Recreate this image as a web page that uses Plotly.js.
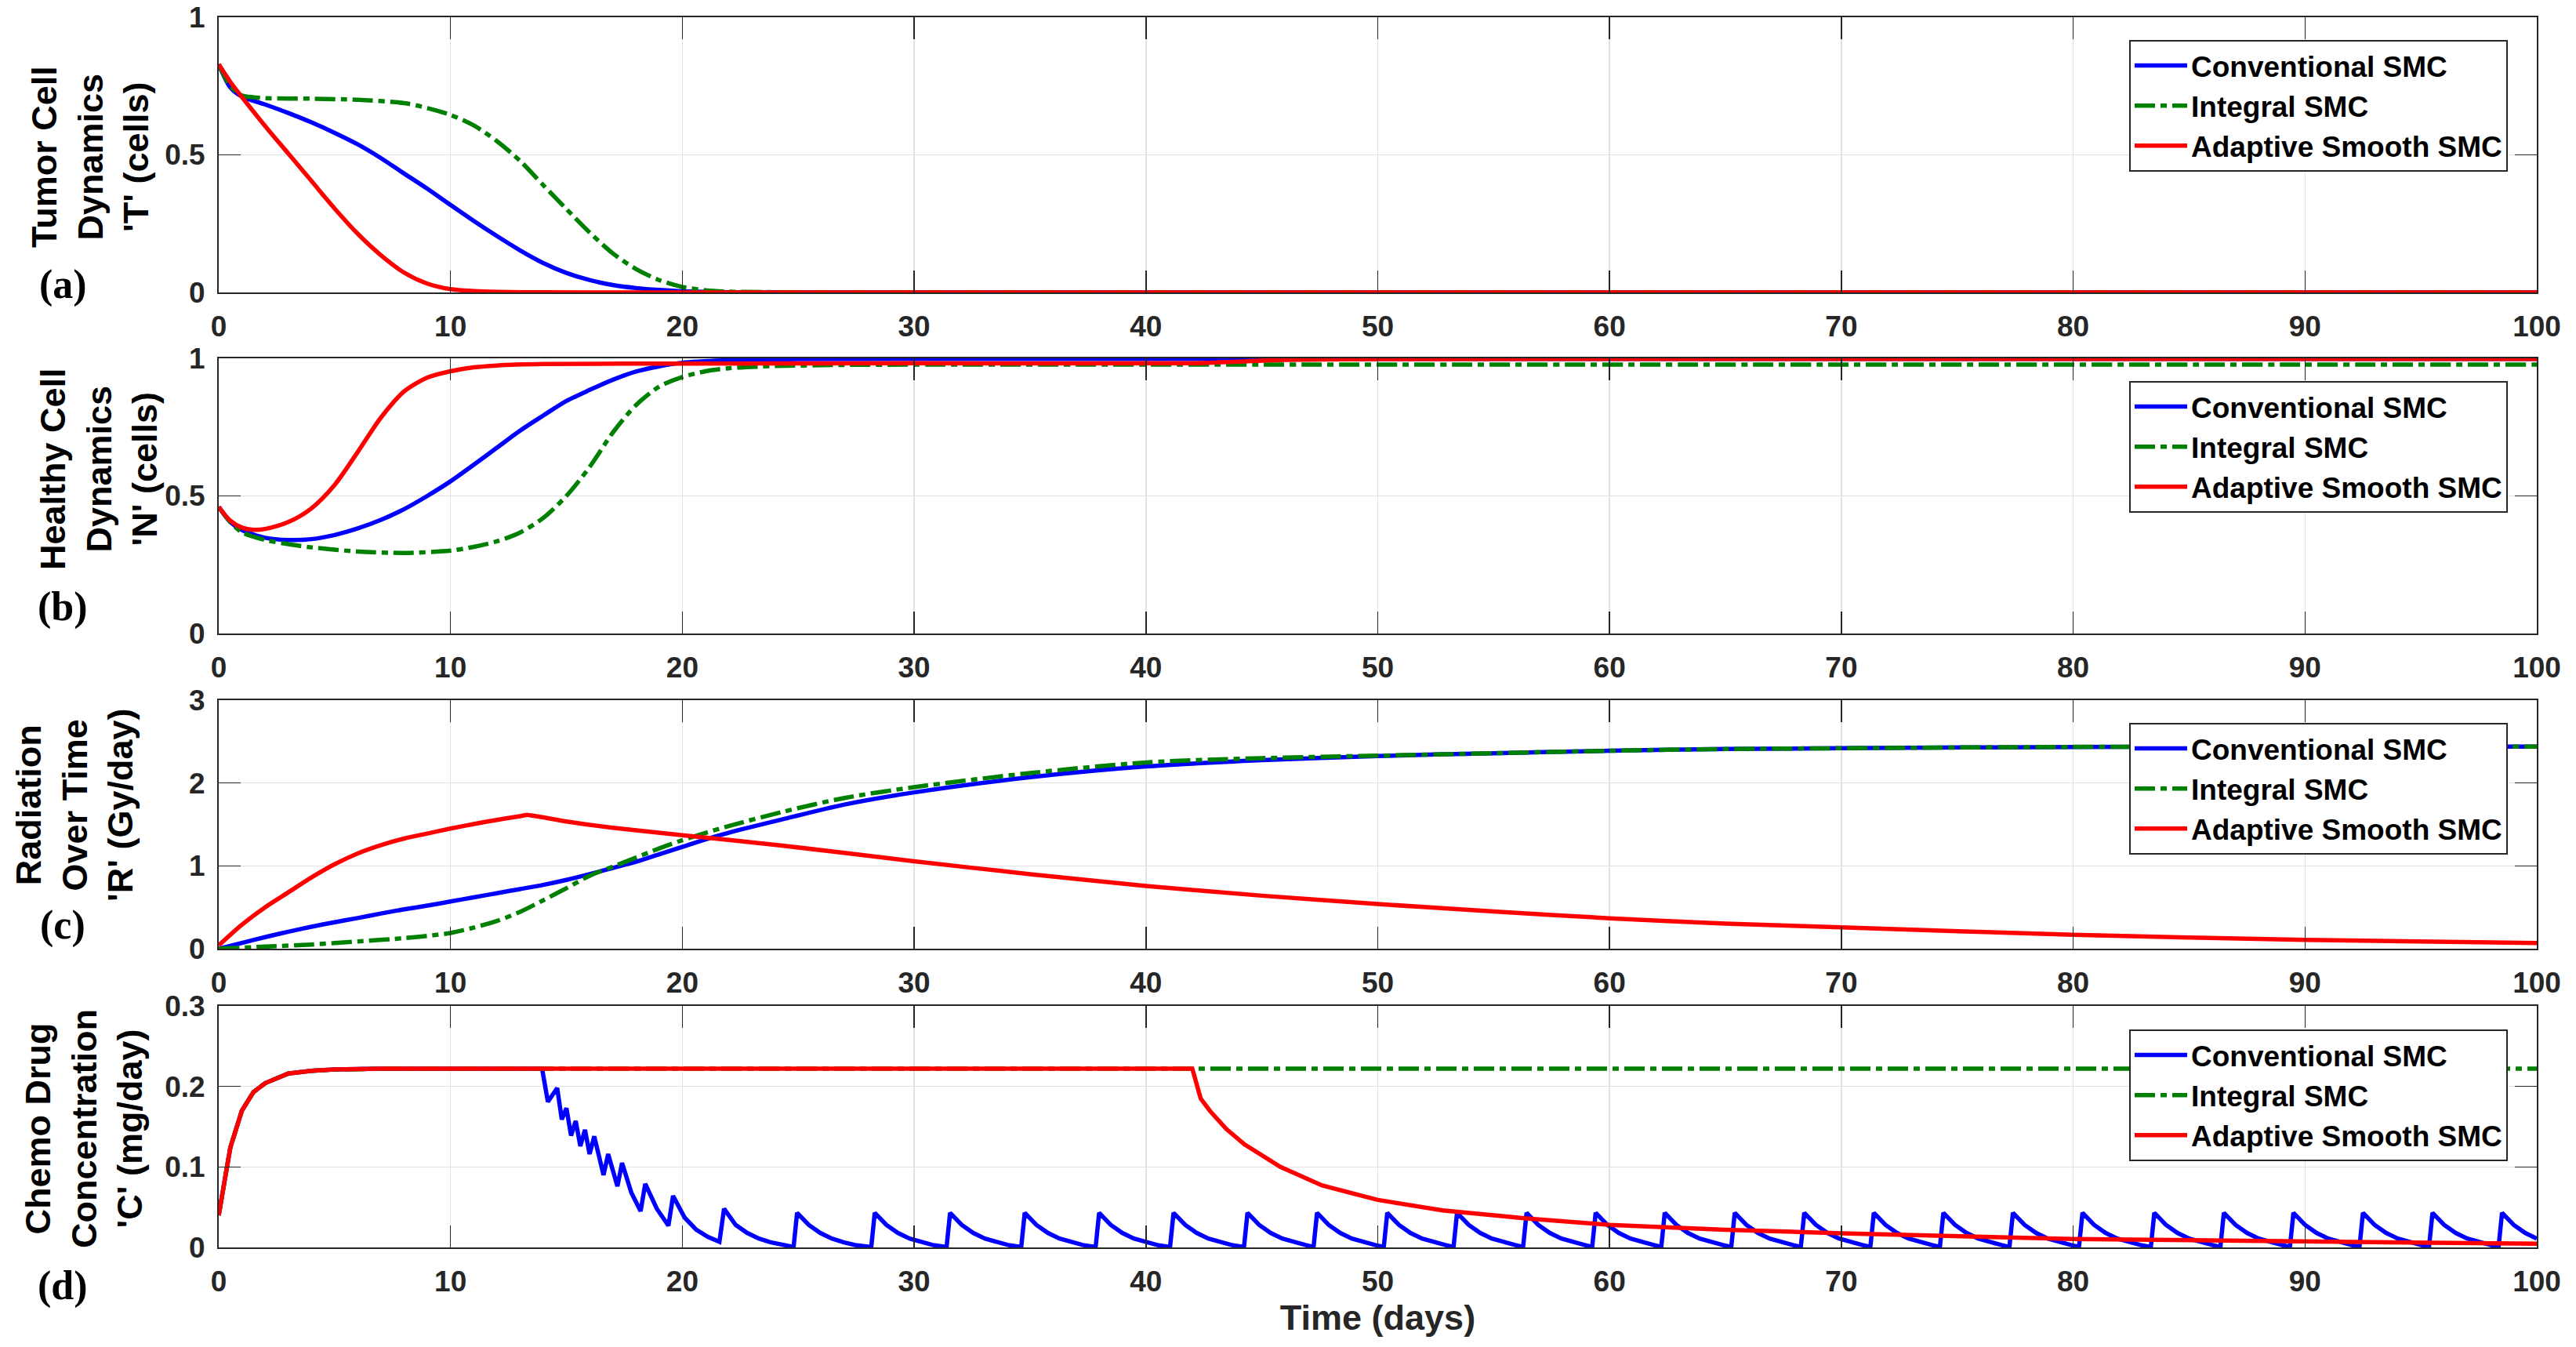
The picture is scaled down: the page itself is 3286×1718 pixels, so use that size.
<!DOCTYPE html>
<html>
<head>
<meta charset="utf-8">
<script src="https://cdn.plot.ly/plotly-3.0.1.min.js"></script>
<style>html,body{margin:0;padding:0;background:#fff;}#chart{width:3286px;height:1718px;}</style>
</head>
<body>
<div id="chart"></div>
<script>
// ---------------- DATA ----------------
const seriesNames = ['Conventional SMC', 'Integral SMC', 'Adaptive Smooth SMC'];

// (a) Tumor cell dynamics
const tumorConvT = [0,0.5,1,2,3,4,5,6,7,8,9,10,11,12,13,14,15,16,17,18,19,20,22,25,100];
const tumorConvV = [0.829,0.745,0.712,0.683,0.652,0.618,0.58,0.538,0.488,0.432,0.377,0.318,0.26,0.205,0.153,0.107,0.071,0.045,0.027,0.016,0.009,0.004,0.001,0,0];
const tumorIntT = [0,0.5,1,1.5,2,4,6,8,9,10,11,12,13,14,15,16,17,18,19,20,21,22,25,30,100];
const tumorIntV = [0.829,0.75,0.716,0.709,0.706,0.704,0.70,0.688,0.670,0.645,0.607,0.55,0.478,0.39,0.303,0.218,0.142,0.085,0.045,0.02,0.008,0.003,0.0005,0,0];
const tumorAdaT = [0,0.5,1,2,3,4,5,6,7,8,9,10,11,12,14,16,100];
const tumorAdaV = [0.829,0.765,0.71,0.605,0.505,0.405,0.305,0.213,0.135,0.072,0.032,0.012,0.005,0.002,0.0005,0,0];

// (b) Healthy cell dynamics
const healthyConvT = [0,0.5,1,2,3,4,5,6,7,8,9,10,11,12,13,14,15,16,17,18,19,20,22,25,30,100];
const healthyConvV = [0.46,0.405,0.376,0.348,0.340,0.343,0.358,0.382,0.413,0.452,0.50,0.553,0.613,0.675,0.737,0.792,0.845,0.885,0.922,0.952,0.971,0.984,0.993,0.997,0.998,0.998];
const healthyIntT = [0,0.5,1,2,3,4,6,8,10,11,12,13,14,15,16,17,18,19,20,21,22,24,27,30,100];
const healthyIntV = [0.46,0.405,0.368,0.34,0.325,0.313,0.298,0.293,0.301,0.315,0.335,0.367,0.42,0.50,0.605,0.73,0.83,0.897,0.932,0.953,0.964,0.972,0.976,0.977,0.977];
const healthyAdaT = [0,0.5,1,1.5,2,3,4,5,6,7,8,9,10,11,12,14,20,30,42,44,46,50,60,100];
const healthyAdaV = [0.46,0.41,0.385,0.377,0.38,0.405,0.455,0.54,0.66,0.785,0.88,0.93,0.953,0.967,0.974,0.979,0.981,0.982,0.982,0.988,0.994,0.997,0.998,0.998];

// (c) Radiation over time
const radConvT = [0,1,2,3,4,5,6,7,8,9,10,11,12,13,14,15,16,17,18,19,20,21,22,24.3,27,30,35,40,45,50,55,60,65,70,80,90,100];
const radConvV = [0,0.07,0.14,0.205,0.265,0.32,0.37,0.425,0.475,0.52,0.57,0.62,0.67,0.72,0.77,0.83,0.9,0.975,1.05,1.14,1.23,1.32,1.40,1.56,1.74,1.887,2.07,2.2,2.275,2.326,2.36,2.389,2.41,2.42,2.435,2.44,2.44];
const radIntT = [0,2,4,6,8,9,10,11,12,13,14,15,16,17,18,19,20,22,24.3,27,30,35,40,45,50,55,60,65,70,80,90,100];
const radIntV = [0,0.025,0.05,0.087,0.128,0.155,0.19,0.255,0.335,0.445,0.585,0.73,0.88,0.99,1.10,1.21,1.31,1.48,1.65,1.82,1.95,2.12,2.248,2.3,2.33,2.36,2.389,2.41,2.42,2.436,2.44,2.44];
const radAdaT = [0,1,2,3,4,5,6,7,8,9,10,11,12,13,13.2,13.3,13.4,14,15,17,20,24.3,30,35,40,45,50,55,60,65,70,80,90,100];
const radAdaV = [0.04,0.29,0.50,0.68,0.86,1.02,1.15,1.25,1.33,1.39,1.45,1.505,1.555,1.60,1.611,1.615,1.611,1.585,1.535,1.46,1.37,1.245,1.056,0.90,0.758,0.64,0.539,0.45,0.367,0.304,0.257,0.169,0.107,0.069];

// (d) Chemo drug concentration
const chemoRiseT = [0,0.25,0.5,1,1.5,2,3,4,5,7];
const chemoRiseV = [0.04,0.085,0.124,0.17,0.193,0.204,0.216,0.2195,0.221,0.222];
const chemoIntTailT = [100];
const chemoIntTailV = [0.222];
const chemoAdaTailT = [42.0,42.36,42.75,43.47,44.25,45.8,47.6,50,52.8,56.4,60,65,70,80,90,100];
const chemoAdaTailV = [0.222,0.185,0.170,0.147,0.128,0.100,0.077,0.059,0.046,0.036,0.028,0.022,0.0176,0.0104,0.0072,0.0046];
const chemoConvDropT = [13.95,14.2,14.6,14.8,15.0,15.2,15.4,15.6,15.8,16.0,16.2,16.6,16.8,17.2,17.4,17.8,18.2,18.4,18.9,19.4,19.6,20.1,20.6,21.1,21.6];
const chemoConvDropV = [0.222,0.181,0.198,0.159,0.173,0.139,0.157,0.126,0.146,0.116,0.138,0.090,0.116,0.076,0.105,0.068,0.045,0.079,0.048,0.027,0.064,0.037,0.022,0.013,0.007];
const pulsePeakDays = [21.8,24.95,28.3,31.55,34.77,37.98,41.19,44.38,47.38,50.41,53.42,56.42,59.40,62.38,65.4,68.4,71.4,74.4,77.4,80.4,83.5,86.5,89.5,92.5,95.5,98.5];
const pulsePeakValues = [0.048,0.043,0.043,0.043,0.043,0.043,0.043,0.043,0.043,0.043,0.043,0.043,0.043,0.043,0.043,0.043,0.043,0.043,0.043,0.043,0.043,0.043,0.043,0.043,0.043,0.043];
const pulseDecayAfter = [0.5,1,1.5,2,2.5];
const pulseDecayValues = [0.028,0.018,0.011,0.0065,0.003];
const pulseLeadBefore = 0.15;
const pulseDipValue = 0.0005;

// ---------------- BUILD ----------------
const chemoConvT = chemoRiseT.concat(chemoConvDropT);
const chemoConvV = chemoRiseV.concat(chemoConvDropV);
pulsePeakDays.forEach((p, i) => {
  if (i > 0) { chemoConvT.push(+(p - pulseLeadBefore).toFixed(3)); chemoConvV.push(pulseDipValue); }
  chemoConvT.push(p); chemoConvV.push(pulsePeakValues[i]);
  pulseDecayAfter.forEach((d, k) => {
    const t = +(p + d).toFixed(3);
    if (t <= 100) { chemoConvT.push(t); chemoConvV.push(pulseDecayValues[k]); }
  });
});
const chemoIntT = chemoRiseT.concat(chemoIntTailT);
const chemoIntV = chemoRiseV.concat(chemoIntTailV);
const chemoAdaT = chemoRiseT.concat(chemoAdaTailT);
const chemoAdaV = chemoRiseV.concat(chemoAdaTailV);

const W = 3286, H = 1718;
const plotLeft = 279, plotRight = 3236;
const panelPx = [[22, 373], [457, 808], [893, 1210], [1283, 1591]];
const FONT = 'Liberation Sans, Arial, Helvetica, sans-serif';
const SERIF = 'Liberation Serif, Times New Roman, serif';
const colors = ['#0000ff', '#008000', '#ff0000'];
const dashes = ['solid', '26px,7px,8px,7px', 'solid'];

const panels = [
  { data: [[tumorConvT, tumorConvV], [tumorIntT, tumorIntV], [tumorAdaT, tumorAdaV]], range: [0, 1], dtick: 0.5, shapes: ['spline','spline','spline'],
    title: "Tumor Cell<br>Dynamics<br>'T' (cells)", tx: 115, ty: 200, tag: '(a)', tagY: 363, legendTop: 51 },
  { data: [[healthyConvT, healthyConvV], [healthyIntT, healthyIntV], [healthyAdaT, healthyAdaV]], range: [0, 1], dtick: 0.5, shapes: ['spline','spline','spline'],
    title: "Healthy Cell<br>Dynamics<br>'N' (cells)", tx: 126, ty: 598, tag: '(b)', tagY: 774, legendTop: 486 },
  { data: [[radConvT, radConvV], [radIntT, radIntV], [radAdaT, radAdaV]], range: [0, 3], dtick: 1, shapes: ['spline','spline','spline'],
    title: "Radiation<br>Over Time<br>'R' (Gy/day)", tx: 95, ty: 1027, tag: '(c)', tagY: 1180, legendTop: 922 },
  { data: [[chemoConvT, chemoConvV], [chemoIntT, chemoIntV], [chemoAdaT, chemoAdaV]], range: [0, 0.3], dtick: 0.1, shapes: ['linear','linear','linear'],
    title: "Chemo Drug<br>Concentration<br>'C' (mg/day)", tx: 107, ty: 1440, tag: '(d)', tagY: 1640, legendTop: 1313 }
];

const traces = [];
const layout = {
  width: W, height: H, margin: { l: 0, r: 0, t: 0, b: 0 },
  paper_bgcolor: '#ffffff', plot_bgcolor: '#ffffff',
  showlegend: true, annotations: []
};

panels.forEach((pn, i) => {
  const sfx = i === 0 ? '' : String(i + 1);
  const legName = 'legend' + sfx;
  pn.data.forEach((d, s) => {
    traces.push({
      type: 'scatter', mode: 'lines', x: d[0], y: d[1], name: seriesNames[s],
      xaxis: 'x' + sfx, yaxis: 'y' + sfx, legend: legName,
      line: { color: colors[s], width: 5.5, dash: dashes[s], shape: pn.shapes[s], smoothing: 0.8 }
    });
  });
  const common = {
    showline: true, linecolor: '#262626', linewidth: 2, mirror: 'ticks',
    ticks: 'inside', ticklen: 28, tickwidth: 1.5, tickcolor: '#262626',
    showgrid: true, gridcolor: '#e2e2e2', gridwidth: 1.5, zeroline: false,
    tickfont: { family: FONT, size: 37, color: '#262626', weight: 'bold' }, fixedrange: true
  };
  layout['xaxis' + sfx] = Object.assign({}, common, {
    domain: [plotLeft / W, plotRight / W], range: [0, 100], tick0: 0, dtick: 10,
    anchor: 'y' + sfx, ticklabelstandoff: 10
  });
  layout['yaxis' + sfx] = Object.assign({}, common, {
    domain: [1 - panelPx[i][1] / H, 1 - panelPx[i][0] / H], range: pn.range, tick0: 0, dtick: pn.dtick,
    anchor: 'x' + sfx, ticklabelstandoff: 8
  });
  layout[legName] = {
    x: 2716 / W, y: 1 - pn.legendTop / H, xanchor: 'left', yanchor: 'top',
    bgcolor: '#ffffff', bordercolor: '#262626', borderwidth: 2,
    font: { family: FONT, size: 37, color: '#000000', weight: 'bold' }, itemwidth: 67
  };
  layout.annotations.push({
    xref: 'paper', yref: 'paper', x: pn.tx / W, y: 1 - pn.ty / H, xanchor: 'center', yanchor: 'middle',
    text: pn.title, textangle: -90, showarrow: false,
    font: { family: FONT, size: 45, color: '#000000', weight: 'bold' }
  });
  layout.annotations.push({
    xref: 'paper', yref: 'paper', x: 80 / W, y: 1 - pn.tagY / H, xanchor: 'center', yanchor: 'middle',
    text: pn.tag, showarrow: false,
    font: { family: SERIF, size: 52, color: '#000000', weight: 'bold' }
  });
});

layout.xaxis4.title = { text: 'Time (days)', font: { family: FONT, size: 45, color: '#262626', weight: 'bold' }, standoff: 4 };

Plotly.newPlot('chart', traces, layout, { staticPlot: true, displayModeBar: false });
</script>
</body>
</html>
